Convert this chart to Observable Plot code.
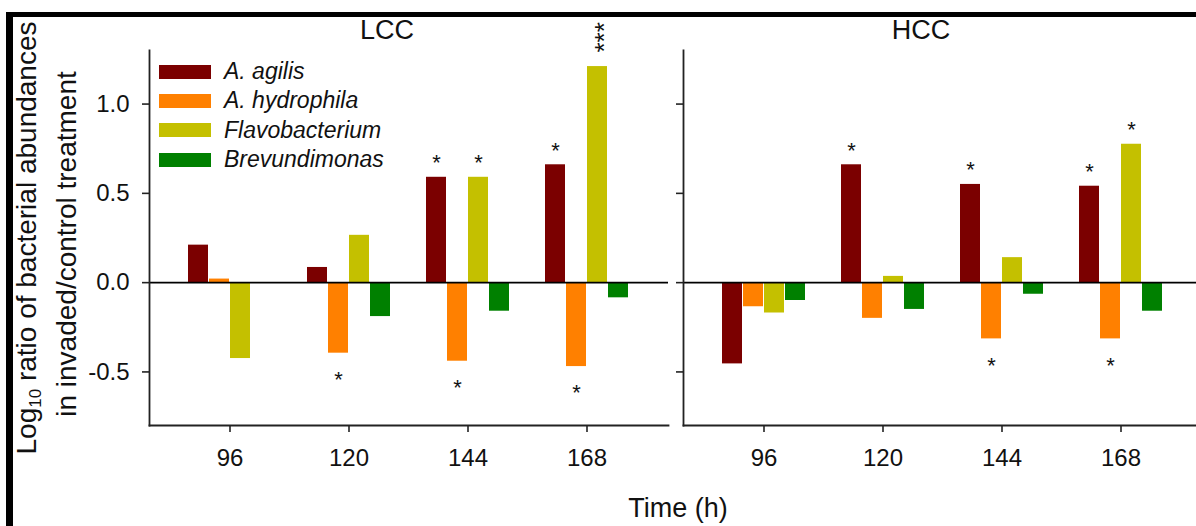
<!DOCTYPE html>
<html><head><meta charset="utf-8">
<script src="https://cdn.jsdelivr.net/npm/d3@7"></script>
<script src="https://cdn.jsdelivr.net/npm/@observablehq/plot@0.6"></script>
<style>
html,body{margin:0;padding:0;background:#fff;overflow:hidden}
#wrap{position:relative;width:1196px;height:526px;overflow:hidden;font-family:"Liberation Sans",Arial,sans-serif;color:#111}
#chart svg{max-width:none !important;display:block}
#frame{position:absolute;left:6px;top:12px;width:1300px;height:600px;border-top:5px solid #000;border-left:7px solid #000;box-sizing:border-box;pointer-events:none}
#legend{position:absolute;left:159px;top:57px}
.row{display:flex;align-items:center;height:29.3px}
.sw{width:52px;height:14px;margin-right:13px}
.lab{font-style:italic;font-size:23px;color:#111}
#xlabel{font-size:27px;line-height:36px;height:36px;padding-left:160px;text-align:center;color:#111}
</style></head><body>
<div id="wrap"><div id="chart"></div><div id="xlabel"></div><div id="legend"></div><div id="frame"></div></div>
<script>
// ---- data ----
const panels = ["LCC", "HCC"];
const times = ["96", "120", "144", "168"];
const species = ["A. agilis", "A. hydrophila", "Flavobacterium", "Brevundimonas"];
const colors = ["#7b0000", "#ff8000", "#c4c000", "#008000"];

const lccAgilis = [0.21, 0.085, 0.59, 0.66];
const lccHydrophila = [0.02, -0.395, -0.44, -0.47];
const lccFlavobacterium = [-0.425, 0.265, 0.59, 1.21];
const lccBrevundimonas = [0, -0.19, -0.16, -0.085];

const hccAgilis = [-0.455, 0.66, 0.55, 0.54];
const hccHydrophila = [-0.135, -0.2, -0.315, -0.315];
const hccFlavobacterium = [-0.17, 0.035, 0.14, 0.775];
const hccBrevundimonas = [-0.1, -0.15, -0.065, -0.16];

const lccSigAgilis = ["", "", "*", "*"];
const lccSigHydrophila = ["", "*", "*", "*"];
const lccSigFlavobacterium = ["", "", "*", "***"];
const lccSigBrevundimonas = ["", "", "", ""];
const hccSigAgilis = ["", "*", "*", "*"];
const hccSigHydrophila = ["", "", "*", "*"];
const hccSigFlavobacterium = ["", "", "", "*"];
const hccSigBrevundimonas = ["", "", "", ""];

const yTicks = [-0.5, 0, 0.5, 1.0];
const yLabel1 = "Log10 ratio of bacterial abundances";
const yLabel2 = "in invaded/control treatment";
const xLabel = "Time (h)";

// ---- table ----
const values = {
  LCC: [lccAgilis, lccHydrophila, lccFlavobacterium, lccBrevundimonas],
  HCC: [hccAgilis, hccHydrophila, hccFlavobacterium, hccBrevundimonas]
};
const sigs = {
  LCC: [lccSigAgilis, lccSigHydrophila, lccSigFlavobacterium, lccSigBrevundimonas],
  HCC: [hccSigAgilis, hccSigHydrophila, hccSigFlavobacterium, hccSigBrevundimonas]
};
const rows = [];
for (const p of panels) species.forEach((s, i) => times.forEach((t, j) => {
  rows.push({panel: p, species: s, si: i, time: t, value: values[p][i][j], sig: sigs[p][i][j]});
}));

const barW = 21; // bandwidth 84 split in 4
const axisStroke = "#222";
const starSize = 22;

const marks = [];
species.forEach((s, i) => {
  marks.push(Plot.barY(rows.filter(d => d.si === i), {
    fx: "panel", x: "time", y: "value", fill: colors[i],
    insetLeft: barW * i, insetRight: barW * (3 - i)
  }));
});
species.forEach((s, i) => {
  const off = (i - 1.5) * barW;
  // single stars above positive bars
  marks.push(Plot.text(rows.filter(d => d.si === i && d.sig.length === 1 && d.value > 0), {
    fx: "panel", x: "time", y: "value", text: "sig",
    lineAnchor: "bottom", dx: off, dy: -7, fontSize: starSize, fill: "#111"
  }));
  // stacked stars (vertical run) above positive bars
  marks.push(Plot.text(rows.filter(d => d.si === i && d.sig.length > 1 && d.value > 0), {
    fx: "panel", x: "time", y: "value", text: "sig", rotate: -90, textAnchor: "start",
    lineAnchor: "middle", dx: off + 7, dy: -14, fontSize: 26, fill: "#111"
  }));
  // stars below negative bars
  marks.push(Plot.text(rows.filter(d => d.si === i && d.sig && d.value < 0), {
    fx: "panel", x: "time", y: "value", text: "sig",
    lineAnchor: "top", dx: off, dy: 18, fontSize: starSize, fill: "#111"
  }));
});
marks.push(
  Plot.ruleY([0], {stroke: "#000", strokeWidth: 1.6}),
  Plot.frame({anchor: "left", stroke: axisStroke, strokeWidth: 1.8}),
  Plot.frame({anchor: "bottom", stroke: axisStroke, strokeWidth: 1.8}),
  Plot.axisY(yTicks, {tickSize: 7, tickFormat: () => "", facetAnchor: null, stroke: axisStroke, strokeWidth: 1.6, label: null}),
  Plot.axisY(yTicks, {tickSize: 0, tickPadding: 20, tickFormat: d => d.toFixed(1), fontSize: 24, label: null}),
  Plot.axisX({tickSize: 7, tickPadding: 16, fontSize: 24, stroke: axisStroke, strokeWidth: 1.6, label: null}),
  Plot.axisFx({anchor: "top", tickSize: 0, tickPadding: 12, fontSize: 27, dx: -22, label: null}),
  Plot.text([yLabel1], {fx: ["LCC"], text: d => d, frameAnchor: "left", textAnchor: "middle", rotate: -90, dx: -122, dy: 0, fontSize: 28, fill: "#111"}),
  Plot.text([yLabel2], {fx: ["LCC"], text: d => d, frameAnchor: "left", textAnchor: "middle", rotate: -90, dx: -82, dy: 6, fontSize: 28, fill: "#111"})
);

const chart = Plot.plot({
  width: 1203, height: 490,
  marginLeft: 148, marginRight: 0, marginTop: 50, marginBottom: 65,
  style: {fontFamily: "Liberation Sans, Arial, sans-serif", fontSize: "24px", color: "#111", background: "transparent"},
  fx: {domain: panels, paddingInner: 0.028, paddingOuter: 0, label: null},
  x: {domain: times, paddingInner: 0.3, paddingOuter: 0.3167, label: null},
  y: {domain: [-0.8, 1.3], label: null},
  marks
});
document.getElementById("chart").appendChild(chart);

// subscript in y label
chart.querySelectorAll("text").forEach(t => {
  if (t.textContent === yLabel1) {
    const ns = "http://www.w3.org/2000/svg";
    t.textContent = "";
    const a = document.createElementNS(ns, "tspan"); a.textContent = "Log";
    const b = document.createElementNS(ns, "tspan"); b.textContent = "10";
    b.setAttribute("font-size", "17"); b.setAttribute("dy", "5");
    const c = document.createElementNS(ns, "tspan"); c.textContent = yLabel1.slice(5);
    c.setAttribute("dy", "-5");
    t.append(a, b, c);
  }
});

// legend
const leg = document.getElementById("legend");
species.forEach((s, i) => {
  const r = document.createElement("div"); r.className = "row";
  const sw = document.createElement("div"); sw.className = "sw"; sw.style.background = colors[i];
  const lb = document.createElement("span"); lb.className = "lab"; lb.textContent = s;
  r.append(sw, lb); leg.append(r);
});
document.getElementById("xlabel").textContent = xLabel;
</script>
</body></html>
